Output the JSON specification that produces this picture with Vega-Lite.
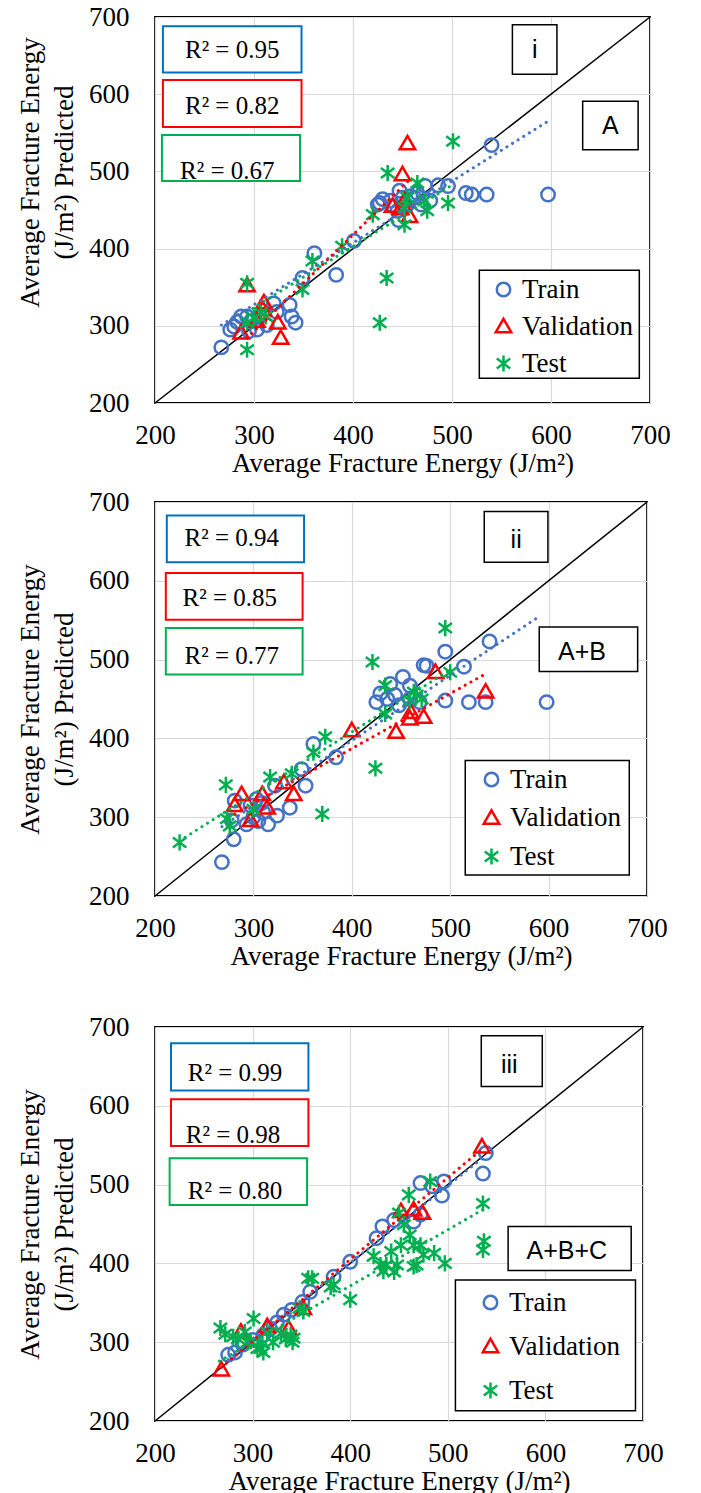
{
  "$schema": "https://vega.github.io/schema/vega-lite/v6.json",
  "padding": {"left": 15, "top": 2, "right": 5, "bottom": 5},
  "config": {
    "font": "Liberation Serif",
    "view": {"stroke": "#000000", "strokeWidth": 1.8},
    "axis": {
      "grid": true, "gridColor": "#d9d9d9", "gridWidth": 1.2,
      "domain": false, "ticks": false,
      "labelFont": "Liberation Serif", "labelFontSize": 27, "labelColor": "#000000",
      "titleFont": "Liberation Serif", "titleFontSize": 27, "titleFontWeight": "normal", "titleColor": "#000000",
      "labelFlush": false, "labelOverlap": false
    },
    "text": {"color": "#000000", "fontSize": 25, "baseline": "middle", "align": "center"}
  },
  "datasets": {
    "a_points": [
      {"set":"Train","actual":267,"predicted":272},{"set":"Train","actual":276,"predicted":295},{"set":"Train","actual":280,"predicted":299},{"set":"Train","actual":283,"predicted":305},{"set":"Train","actual":287,"predicted":312},{"set":"Train","actual":293,"predicted":312},{"set":"Train","actual":297,"predicted":306},{"set":"Train","actual":295,"predicted":293},{"set":"Train","actual":303,"predicted":295},{"set":"Train","actual":306,"predicted":312},{"set":"Train","actual":313,"predicted":301},{"set":"Train","actual":320,"predicted":329},{"set":"Train","actual":323,"predicted":318},{"set":"Train","actual":336,"predicted":327},{"set":"Train","actual":338,"predicted":312},{"set":"Train","actual":342,"predicted":304},{"set":"Train","actual":349,"predicted":362},{"set":"Train","actual":361,"predicted":394},{"set":"Train","actual":383,"predicted":366},{"set":"Train","actual":401,"predicted":410},{"set":"Train","actual":425,"predicted":457},{"set":"Train","actual":427,"predicted":459},{"set":"Train","actual":430,"predicted":464},{"set":"Train","actual":438,"predicted":462},{"set":"Train","actual":441,"predicted":455},{"set":"Train","actual":446,"predicted":437},{"set":"Train","actual":447,"predicted":475},{"set":"Train","actual":445,"predicted":449},{"set":"Train","actual":450,"predicted":466},{"set":"Train","actual":454,"predicted":455},{"set":"Train","actual":458,"predicted":468},{"set":"Train","actual":462,"predicted":466},{"set":"Train","actual":465,"predicted":472},{"set":"Train","actual":469,"predicted":457},{"set":"Train","actual":473,"predicted":481},{"set":"Train","actual":478,"predicted":462},{"set":"Train","actual":486,"predicted":482},{"set":"Train","actual":496,"predicted":481},{"set":"Train","actual":514,"predicted":472},{"set":"Train","actual":520,"predicted":470},{"set":"Train","actual":535,"predicted":470},{"set":"Train","actual":540,"predicted":534},{"set":"Train","actual":597,"predicted":470},
      {"set":"Validation","actual":293,"predicted":352},{"set":"Validation","actual":303,"predicted":306},{"set":"Validation","actual":310,"predicted":330},{"set":"Validation","actual":309,"predicted":321},{"set":"Validation","actual":287,"predicted":291},{"set":"Validation","actual":324,"predicted":304},{"set":"Validation","actual":327,"predicted":284},{"set":"Validation","actual":440,"predicted":455},{"set":"Validation","actual":448,"predicted":452},{"set":"Validation","actual":452,"predicted":462},{"set":"Validation","actual":457,"predicted":442},{"set":"Validation","actual":450,"predicted":496},{"set":"Validation","actual":455,"predicted":536},
      {"set":"Test","actual":293,"predicted":355},{"set":"Test","actual":293,"predicted":269},{"set":"Test","actual":293,"predicted":304},{"set":"Test","actual":300,"predicted":310},{"set":"Test","actual":307,"predicted":317},{"set":"Test","actual":312,"predicted":312},{"set":"Test","actual":349,"predicted":347},{"set":"Test","actual":359,"predicted":384},{"set":"Test","actual":389,"predicted":403},{"set":"Test","actual":420,"predicted":444},{"set":"Test","actual":435,"predicted":498},{"set":"Test","actual":434,"predicted":362},{"set":"Test","actual":427,"predicted":304},{"set":"Test","actual":452,"predicted":453},{"set":"Test","actual":452,"predicted":431},{"set":"Test","actual":455,"predicted":466},{"set":"Test","actual":465,"predicted":485},{"set":"Test","actual":472,"predicted":462},{"set":"Test","actual":475,"predicted":449},{"set":"Test","actual":496,"predicted":459},{"set":"Test","actual":501,"predicted":539}
    ],
    "a_trend": [
      {"set":"Train","actual":267,"predicted":301},{"set":"Train","actual":597,"predicted":565},
      {"set":"Validation","actual":293,"predicted":284},{"set":"Validation","actual":456,"predicted":488},
      {"set":"Test","actual":293,"predicted":318},{"set":"Test","actual":501,"predicted":483}
    ],
    "b_points": [
      {"set":"Train","actual":268,"predicted":243},{"set":"Train","actual":280,"predicted":272},{"set":"Train","actual":281,"predicted":321},{"set":"Train","actual":278,"predicted":296},{"set":"Train","actual":293,"predicted":291},{"set":"Train","actual":297,"predicted":315},{"set":"Train","actual":300,"predicted":300},{"set":"Train","actual":303,"predicted":323},{"set":"Train","actual":305,"predicted":295},{"set":"Train","actual":308,"predicted":318},{"set":"Train","actual":310,"predicted":306},{"set":"Train","actual":315,"predicted":291},{"set":"Train","actual":324,"predicted":302},{"set":"Train","actual":322,"predicted":340},{"set":"Train","actual":337,"predicted":312},{"set":"Train","actual":349,"predicted":361},{"set":"Train","actual":353,"predicted":340},{"set":"Train","actual":361,"predicted":393},{"set":"Train","actual":384,"predicted":376},{"set":"Train","actual":425,"predicted":446},{"set":"Train","actual":429,"predicted":457},{"set":"Train","actual":439,"predicted":469},{"set":"Train","actual":436,"predicted":450},{"set":"Train","actual":444,"predicted":455},{"set":"Train","actual":452,"predicted":478},{"set":"Train","actual":448,"predicted":442},{"set":"Train","actual":459,"predicted":467},{"set":"Train","actual":459,"predicted":450},{"set":"Train","actual":469,"predicted":446},{"set":"Train","actual":473,"predicted":493},{"set":"Train","actual":476,"predicted":492},{"set":"Train","actual":495,"predicted":510},{"set":"Train","actual":495,"predicted":448},{"set":"Train","actual":514,"predicted":491},{"set":"Train","actual":519,"predicted":446},{"set":"Train","actual":536,"predicted":446},{"set":"Train","actual":540,"predicted":523},{"set":"Train","actual":598,"predicted":446},
      {"set":"Validation","actual":288,"predicted":329},{"set":"Validation","actual":281,"predicted":315},{"set":"Validation","actual":297,"predicted":296},{"set":"Validation","actual":309,"predicted":329},{"set":"Validation","actual":314,"predicted":312},{"set":"Validation","actual":331,"predicted":344},{"set":"Validation","actual":341,"predicted":329},{"set":"Validation","actual":400,"predicted":410},{"set":"Validation","actual":445,"predicted":408},{"set":"Validation","actual":459,"predicted":425},{"set":"Validation","actual":460,"predicted":433},{"set":"Validation","actual":473,"predicted":427},{"set":"Validation","actual":485,"predicted":484},{"set":"Validation","actual":536,"predicted":459},
      {"set":"Test","actual":225,"predicted":268},{"set":"Test","actual":272,"predicted":341},{"set":"Test","actual":273,"predicted":298},{"set":"Test","actual":276,"predicted":289},{"set":"Test","actual":300,"predicted":310},{"set":"Test","actual":317,"predicted":351},{"set":"Test","actual":339,"predicted":355},{"set":"Test","actual":361,"predicted":382},{"set":"Test","actual":373,"predicted":402},{"set":"Test","actual":370,"predicted":304},{"set":"Test","actual":421,"predicted":497},{"set":"Test","actual":424,"predicted":362},{"set":"Test","actual":434,"predicted":467},{"set":"Test","actual":434,"predicted":431},{"set":"Test","actual":459,"predicted":448},{"set":"Test","actual":463,"predicted":459},{"set":"Test","actual":466,"predicted":455},{"set":"Test","actual":471,"predicted":450},{"set":"Test","actual":495,"predicted":540},{"set":"Test","actual":500,"predicted":484}
    ],
    "b_trend": [
      {"set":"Train","actual":268,"predicted":288},{"set":"Train","actual":592,"predicted":556},
      {"set":"Validation","actual":281,"predicted":304},{"set":"Validation","actual":536,"predicted":482},
      {"set":"Test","actual":225,"predicted":270},{"set":"Test","actual":500,"predicted":487}
    ],
    "c_points": [
      {"set":"Train","actual":275,"predicted":284},{"set":"Train","actual":282,"predicted":287},{"set":"Train","actual":290,"predicted":297},{"set":"Train","actual":300,"predicted":303},{"set":"Train","actual":311,"predicted":309},{"set":"Train","actual":318,"predicted":317},{"set":"Train","actual":325,"predicted":325},{"set":"Train","actual":332,"predicted":335},{"set":"Train","actual":340,"predicted":341},{"set":"Train","actual":351,"predicted":351},{"set":"Train","actual":359,"predicted":364},{"set":"Train","actual":383,"predicted":383},{"set":"Train","actual":400,"predicted":402},{"set":"Train","actual":427,"predicted":432},{"set":"Train","actual":433,"predicted":447},{"set":"Train","actual":445,"predicted":455},{"set":"Train","actual":465,"predicted":453},{"set":"Train","actual":472,"predicted":462},{"set":"Train","actual":472,"predicted":502},{"set":"Train","actual":484,"predicted":498},{"set":"Train","actual":496,"predicted":504},{"set":"Train","actual":494,"predicted":486},{"set":"Train","actual":539,"predicted":540},{"set":"Train","actual":536,"predicted":514},
      {"set":"Validation","actual":268,"predicted":265},{"set":"Validation","actual":288,"predicted":313},{"set":"Validation","actual":315,"predicted":320},{"set":"Validation","actual":337,"predicted":317},{"set":"Validation","actual":352,"predicted":343},{"set":"Validation","actual":452,"predicted":466},{"set":"Validation","actual":465,"predicted":468},{"set":"Validation","actual":474,"predicted":464},{"set":"Validation","actual":535,"predicted":548},
      {"set":"Test","actual":267,"predicted":318},{"set":"Test","actual":272,"predicted":310},{"set":"Test","actual":280,"predicted":307},{"set":"Test","actual":285,"predicted":304},{"set":"Test","actual":292,"predicted":313},{"set":"Test","actual":295,"predicted":300},{"set":"Test","actual":301,"predicted":330},{"set":"Test","actual":305,"predicted":292},{"set":"Test","actual":298,"predicted":301},{"set":"Test","actual":308,"predicted":292},{"set":"Test","actual":310,"predicted":298},{"set":"Test","actual":311,"predicted":287},{"set":"Test","actual":315,"predicted":313},{"set":"Test","actual":321,"predicted":300},{"set":"Test","actual":329,"predicted":311},{"set":"Test","actual":334,"predicted":304},{"set":"Test","actual":339,"predicted":309},{"set":"Test","actual":341,"predicted":300},{"set":"Test","actual":342,"predicted":305},{"set":"Test","actual":348,"predicted":343},{"set":"Test","actual":352,"predicted":339},{"set":"Test","actual":357,"predicted":381},{"set":"Test","actual":361,"predicted":381},{"set":"Test","actual":380,"predicted":370},{"set":"Test","actual":383,"predicted":373},{"set":"Test","actual":400,"predicted":354},{"set":"Test","actual":424,"predicted":409},{"set":"Test","actual":431,"predicted":398},{"set":"Test","actual":434,"predicted":390},{"set":"Test","actual":437,"predicted":398},{"set":"Test","actual":442,"predicted":415},{"set":"Test","actual":445,"predicted":389},{"set":"Test","actual":448,"predicted":398},{"set":"Test","actual":450,"predicted":464},{"set":"Test","actual":452,"predicted":423},{"set":"Test","actual":455,"predicted":449},{"set":"Test","actual":460,"predicted":487},{"set":"Test","actual":461,"predicted":436},{"set":"Test","actual":465,"predicted":423},{"set":"Test","actual":465,"predicted":396},{"set":"Test","actual":468,"predicted":398},{"set":"Test","actual":472,"predicted":423},{"set":"Test","actual":475,"predicted":411},{"set":"Test","actual":482,"predicted":504},{"set":"Test","actual":486,"predicted":413},{"set":"Test","actual":497,"predicted":400},{"set":"Test","actual":536,"predicted":476},{"set":"Test","actual":537,"predicted":428},{"set":"Test","actual":536,"predicted":417}
    ],
    "c_trend": [
      {"set":"Train","actual":275,"predicted":278},{"set":"Train","actual":539,"predicted":537},
      {"set":"Validation","actual":268,"predicted":268},{"set":"Validation","actual":535,"predicted":545},
      {"set":"Test","actual":266,"predicted":276},{"set":"Test","actual":537,"predicted":469}
    ],
    "diagonal": [{"actual":200,"predicted":200},{"actual":700,"predicted":700}]
  },
  "spacing": 10,
  "resolve": {
    "scale": {"color": "independent", "shape": "independent", "stroke": "independent"},
    "legend": {"color": "independent", "shape": "independent"}
  },
  "vconcat": [
    {
      "width": 495, "height": 386,
      "layer": [
        {"data": {"name": "diagonal"}, "mark": {"type": "line", "color": "#000000", "strokeWidth": 1.5},
         "encoding": {
           "x": {"field": "actual", "type": "quantitative", "scale": {"domain": [200, 700], "nice": false, "zero": false},
                 "axis": {"values": [200, 300, 400, 500, 600, 700], "title": "Average Fracture Energy (J/m²)", "labelPadding": 19, "titlePadding": 2}},
           "y": {"field": "predicted", "type": "quantitative", "scale": {"domain": [200, 700], "nice": false, "zero": false},
                 "axis": {"values": [200, 300, 400, 500, 600, 700], "title": ["Average Fracture Energy", "(J/m²) Predicted"], "labelPadding": 26, "titlePadding": 10, "titleLineHeight": 34, "titleY": 155}}
         }},
        {"data": {"name": "a_points"},
         "mark": {"type": "point", "filled": false, "strokeWidth": 2.5, "size": 180, "opacity": 1},
         "encoding": {
           "x": {"field": "actual", "type": "quantitative"},
           "y": {"field": "predicted", "type": "quantitative"},
           "color": {"field": "set", "type": "nominal", "scale": {"domain": ["Train", "Validation", "Test"], "range": ["#4472C4", "#FF0000", "#00B050"]},
                     "legend": {"title": null, "orient": "none", "legendX": 335, "legendY": 259, "padding": 0, "rowPadding": 9, "labelFont": "Liberation Serif", "labelFontSize": 27, "labelColor": "#000000", "labelOffset": 5, "symbolSize": 180, "symbolStrokeWidth": 2.5}},
           "shape": {"field": "set", "type": "nominal", "scale": {"domain": ["Train", "Validation", "Test"], "range": ["circle", "M0,-1.15L1.15,0.85L-1.15,0.85Z", "M-1,-0.75L1,0.75M-1,0.75L1,-0.75M0,-1.2L0,1.2"]},
                     "legend": {"title": null, "orient": "none", "legendX": 335, "legendY": 259, "padding": 0, "rowPadding": 9, "labelFont": "Liberation Serif", "labelFontSize": 27, "labelColor": "#000000", "labelOffset": 5, "symbolSize": 180, "symbolStrokeWidth": 2.5}}
         }},
        {"data": {"name": "a_trend"},
         "mark": {"type": "line", "strokeWidth": 3, "strokeDash": [0.1, 6.5], "strokeCap": "round"},
         "encoding": {
           "x": {"field": "actual", "type": "quantitative"},
           "y": {"field": "predicted", "type": "quantitative"},
           "stroke": {"field": "set", "type": "nominal", "scale": {"domain": ["Train", "Validation", "Test"], "range": ["#4472C4", "#FF0000", "#00B050"]}, "legend": null}}},
        {"data": {"values": [{"note": "R² = 0.95"}]},
         "layer": [
           {"mark": {"type": "rect", "fill": "#ffffff", "stroke": "#0070C0", "strokeWidth": 2}, "encoding": {"x": {"datum": 208, "type": "quantitative"}, "x2": {"datum": 348}, "y": {"datum": 628, "type": "quantitative"}, "y2": {"datum": 688}}},
           {"mark": {"type": "text", "font": "Liberation Serif"}, "encoding": {"x": {"datum": 278, "type": "quantitative"}, "y": {"datum": 657, "type": "quantitative"}, "text": {"field": "note"}}}
         ]},
        {"data": {"values": [{"note": "R² = 0.82"}]},
         "layer": [
           {"mark": {"type": "rect", "fill": "#ffffff", "stroke": "#FF0000", "strokeWidth": 2}, "encoding": {"x": {"datum": 208, "type": "quantitative"}, "x2": {"datum": 348}, "y": {"datum": 557.5, "type": "quantitative"}, "y2": {"datum": 618.5}}},
           {"mark": {"type": "text", "font": "Liberation Serif"}, "encoding": {"x": {"datum": 278, "type": "quantitative"}, "y": {"datum": 585, "type": "quantitative"}, "text": {"field": "note"}}}
         ]},
        {"data": {"values": [{"note": "R² = 0.67"}]},
         "layer": [
           {"mark": {"type": "rect", "fill": "#ffffff", "stroke": "#00B050", "strokeWidth": 2}, "encoding": {"x": {"datum": 207, "type": "quantitative"}, "x2": {"datum": 346.5}, "y": {"datum": 487.5, "type": "quantitative"}, "y2": {"datum": 547}}},
           {"mark": {"type": "text", "font": "Liberation Serif"}, "encoding": {"x": {"datum": 273, "type": "quantitative"}, "y": {"datum": 500, "type": "quantitative"}, "text": {"field": "note"}}}
         ]},
        {"data": {"values": [{"note": "i"}]},
         "layer": [
           {"mark": {"type": "rect", "fill": "#ffffff", "stroke": "#000000", "strokeWidth": 1.5}, "encoding": {"x": {"datum": 561, "type": "quantitative"}, "x2": {"datum": 606}, "y": {"datum": 626, "type": "quantitative"}, "y2": {"datum": 690}}},
           {"mark": {"type": "text", "font": "Liberation Sans"}, "encoding": {"x": {"datum": 583.5, "type": "quantitative"}, "y": {"datum": 657, "type": "quantitative"}, "text": {"field": "note"}}}
         ]},
        {"data": {"values": [{"note": "A"}]},
         "layer": [
           {"mark": {"type": "rect", "fill": "#ffffff", "stroke": "#000000", "strokeWidth": 1.5}, "encoding": {"x": {"datum": 632, "type": "quantitative"}, "x2": {"datum": 688}, "y": {"datum": 528, "type": "quantitative"}, "y2": {"datum": 591}}},
           {"mark": {"type": "text", "font": "Liberation Sans"}, "encoding": {"x": {"datum": 660, "type": "quantitative"}, "y": {"datum": 559, "type": "quantitative"}, "text": {"field": "note"}}}
         ]},
        {"data": {"values": [{"note": ""}]},
         "mark": {"type": "rect", "fill": "#ffffff", "stroke": "#000000", "strokeWidth": 1.5},
         "encoding": {"x": {"datum": 527.6, "type": "quantitative"}, "x2": {"datum": 689.2}, "y": {"datum": 232, "type": "quantitative"}, "y2": {"datum": 372}}}
      ]
    },
    {
      "width": 492, "height": 394,
      "layer": [
        {"data": {"name": "diagonal"}, "mark": {"type": "line", "color": "#000000", "strokeWidth": 1.5},
         "encoding": {
           "x": {"field": "actual", "type": "quantitative", "scale": {"domain": [200, 700], "nice": false, "zero": false},
                 "axis": {"values": [200, 300, 400, 500, 600, 700], "title": "Average Fracture Energy (J/m²)", "labelPadding": 19, "titlePadding": 2}},
           "y": {"field": "predicted", "type": "quantitative", "scale": {"domain": [200, 700], "nice": false, "zero": false},
                 "axis": {"values": [200, 300, 400, 500, 600, 700], "title": ["Average Fracture Energy", "(J/m²) Predicted"], "labelPadding": 26, "titlePadding": 10, "titleLineHeight": 34}}
         }},
        {"data": {"name": "b_points"},
         "mark": {"type": "point", "filled": false, "strokeWidth": 2.5, "size": 180, "opacity": 1},
         "encoding": {
           "x": {"field": "actual", "type": "quantitative"},
           "y": {"field": "predicted", "type": "quantitative"},
           "color": {"field": "set", "type": "nominal", "scale": {"domain": ["Train", "Validation", "Test"], "range": ["#4472C4", "#FF0000", "#00B050"]},
                     "legend": {"title": null, "orient": "none", "legendX": 323, "legendY": 264, "padding": 0, "rowPadding": 10.5, "labelFont": "Liberation Serif", "labelFontSize": 27, "labelColor": "#000000", "labelOffset": 5, "symbolSize": 180, "symbolStrokeWidth": 2.5}},
           "shape": {"field": "set", "type": "nominal", "scale": {"domain": ["Train", "Validation", "Test"], "range": ["circle", "M0,-1.15L1.15,0.85L-1.15,0.85Z", "M-1,-0.75L1,0.75M-1,0.75L1,-0.75M0,-1.2L0,1.2"]},
                     "legend": {"title": null, "orient": "none", "legendX": 323, "legendY": 264, "padding": 0, "rowPadding": 10.5, "labelFont": "Liberation Serif", "labelFontSize": 27, "labelColor": "#000000", "labelOffset": 5, "symbolSize": 180, "symbolStrokeWidth": 2.5}}
         }},
        {"data": {"name": "b_trend"},
         "mark": {"type": "line", "strokeWidth": 3, "strokeDash": [0.1, 6.5], "strokeCap": "round"},
         "encoding": {
           "x": {"field": "actual", "type": "quantitative"},
           "y": {"field": "predicted", "type": "quantitative"},
           "stroke": {"field": "set", "type": "nominal", "scale": {"domain": ["Train", "Validation", "Test"], "range": ["#4472C4", "#FF0000", "#00B050"]}, "legend": null}}},
        {"data": {"values": [{"note": "R² = 0.94"}]},
         "layer": [
           {"mark": {"type": "rect", "fill": "#ffffff", "stroke": "#0070C0", "strokeWidth": 2}, "encoding": {"x": {"datum": 212, "type": "quantitative"}, "x2": {"datum": 351.5}, "y": {"datum": 623.5, "type": "quantitative"}, "y2": {"datum": 683}}},
           {"mark": {"type": "text", "font": "Liberation Serif"}, "encoding": {"x": {"datum": 278, "type": "quantitative"}, "y": {"datum": 654, "type": "quantitative"}, "text": {"field": "note"}}}
         ]},
        {"data": {"values": [{"note": "R² = 0.85"}]},
         "layer": [
           {"mark": {"type": "rect", "fill": "#ffffff", "stroke": "#FF0000", "strokeWidth": 2}, "encoding": {"x": {"datum": 211, "type": "quantitative"}, "x2": {"datum": 350}, "y": {"datum": 550.5, "type": "quantitative"}, "y2": {"datum": 610}}},
           {"mark": {"type": "text", "font": "Liberation Serif"}, "encoding": {"x": {"datum": 276, "type": "quantitative"}, "y": {"datum": 578, "type": "quantitative"}, "text": {"field": "note"}}}
         ]},
        {"data": {"values": [{"note": "R² = 0.77"}]},
         "layer": [
           {"mark": {"type": "rect", "fill": "#ffffff", "stroke": "#00B050", "strokeWidth": 2}, "encoding": {"x": {"datum": 211, "type": "quantitative"}, "x2": {"datum": 350}, "y": {"datum": 481, "type": "quantitative"}, "y2": {"datum": 540}}},
           {"mark": {"type": "text", "font": "Liberation Serif"}, "encoding": {"x": {"datum": 278, "type": "quantitative"}, "y": {"datum": 505, "type": "quantitative"}, "text": {"field": "note"}}}
         ]},
        {"data": {"values": [{"note": "ii"}]},
         "layer": [
           {"mark": {"type": "rect", "fill": "#ffffff", "stroke": "#000000", "strokeWidth": 1.5}, "encoding": {"x": {"datum": 534.6, "type": "quantitative"}, "x2": {"datum": 599.3}, "y": {"datum": 623.4, "type": "quantitative"}, "y2": {"datum": 688}}},
           {"mark": {"type": "text", "font": "Liberation Sans"}, "encoding": {"x": {"datum": 567, "type": "quantitative"}, "y": {"datum": 652, "type": "quantitative"}, "text": {"field": "note"}}}
         ]},
        {"data": {"values": [{"note": "A+B"}]},
         "layer": [
           {"mark": {"type": "rect", "fill": "#ffffff", "stroke": "#000000", "strokeWidth": 1.5}, "encoding": {"x": {"datum": 590.5, "type": "quantitative"}, "x2": {"datum": 690.5}, "y": {"datum": 485, "type": "quantitative"}, "y2": {"datum": 541.5}}},
           {"mark": {"type": "text", "font": "Liberation Sans"}, "encoding": {"x": {"datum": 634, "type": "quantitative"}, "y": {"datum": 510, "type": "quantitative"}, "text": {"field": "note"}}}
         ]},
        {"data": {"values": [{"note": ""}]},
         "mark": {"type": "rect", "fill": "#ffffff", "stroke": "#000000", "strokeWidth": 1.5},
         "encoding": {"x": {"datum": 515.3, "type": "quantitative"}, "x2": {"datum": 682}, "y": {"datum": 226.7, "type": "quantitative"}, "y2": {"datum": 371.8}}}
      ]
    },
    {
      "width": 488, "height": 394,
      "title": {"text": " ", "fontSize": 10, "offset": 22},
      "layer": [
        {"data": {"name": "diagonal"}, "mark": {"type": "line", "color": "#000000", "strokeWidth": 1.5},
         "encoding": {
           "x": {"field": "actual", "type": "quantitative", "scale": {"domain": [200, 700], "nice": false, "zero": false},
                 "axis": {"values": [200, 300, 400, 500, 600, 700], "title": "Average Fracture Energy (J/m²)", "labelPadding": 19, "titlePadding": 2}},
           "y": {"field": "predicted", "type": "quantitative", "scale": {"domain": [200, 700], "nice": false, "zero": false},
                 "axis": {"values": [200, 300, 400, 500, 600, 700], "title": ["Average Fracture Energy", "(J/m²) Predicted"], "labelPadding": 26, "titlePadding": 10, "titleLineHeight": 34}}
         }},
        {"data": {"name": "c_points"},
         "mark": {"type": "point", "filled": false, "strokeWidth": 2.5, "size": 180, "opacity": 1},
         "encoding": {
           "x": {"field": "actual", "type": "quantitative"},
           "y": {"field": "predicted", "type": "quantitative"},
           "color": {"field": "set", "type": "nominal", "scale": {"domain": ["Train", "Validation", "Test"], "range": ["#4472C4", "#FF0000", "#00B050"]},
                     "legend": {"title": null, "orient": "none", "legendX": 322, "legendY": 262, "padding": 0, "rowPadding": 16, "labelFont": "Liberation Serif", "labelFontSize": 27, "labelColor": "#000000", "labelOffset": 5, "symbolSize": 180, "symbolStrokeWidth": 2.5}},
           "shape": {"field": "set", "type": "nominal", "scale": {"domain": ["Train", "Validation", "Test"], "range": ["circle", "M0,-1.15L1.15,0.85L-1.15,0.85Z", "M-1,-0.75L1,0.75M-1,0.75L1,-0.75M0,-1.2L0,1.2"]},
                     "legend": {"title": null, "orient": "none", "legendX": 322, "legendY": 262, "padding": 0, "rowPadding": 16, "labelFont": "Liberation Serif", "labelFontSize": 27, "labelColor": "#000000", "labelOffset": 5, "symbolSize": 180, "symbolStrokeWidth": 2.5}}
         }},
        {"data": {"name": "c_trend"},
         "mark": {"type": "line", "strokeWidth": 3, "strokeDash": [0.1, 6.5], "strokeCap": "round"},
         "encoding": {
           "x": {"field": "actual", "type": "quantitative"},
           "y": {"field": "predicted", "type": "quantitative"},
           "stroke": {"field": "set", "type": "nominal", "scale": {"domain": ["Train", "Validation", "Test"], "range": ["#4472C4", "#FF0000", "#00B050"]}, "legend": null}}},
        {"data": {"values": [{"note": "R² = 0.99"}]},
         "layer": [
           {"mark": {"type": "rect", "fill": "#ffffff", "stroke": "#0070C0", "strokeWidth": 2}, "encoding": {"x": {"datum": 216.4, "type": "quantitative"}, "x2": {"datum": 357.2}, "y": {"datum": 619.4, "type": "quantitative"}, "y2": {"datum": 679.4}}},
           {"mark": {"type": "text", "font": "Liberation Serif"}, "encoding": {"x": {"datum": 282, "type": "quantitative"}, "y": {"datum": 641, "type": "quantitative"}, "text": {"field": "note"}}}
         ]},
        {"data": {"values": [{"note": "R² = 0.98"}]},
         "layer": [
           {"mark": {"type": "rect", "fill": "#ffffff", "stroke": "#FF0000", "strokeWidth": 2}, "encoding": {"x": {"datum": 216.4, "type": "quantitative"}, "x2": {"datum": 357.2}, "y": {"datum": 549, "type": "quantitative"}, "y2": {"datum": 608.4}}},
           {"mark": {"type": "text", "font": "Liberation Serif"}, "encoding": {"x": {"datum": 280, "type": "quantitative"}, "y": {"datum": 563, "type": "quantitative"}, "text": {"field": "note"}}}
         ]},
        {"data": {"values": [{"note": "R² = 0.80"}]},
         "layer": [
           {"mark": {"type": "rect", "fill": "#ffffff", "stroke": "#00B050", "strokeWidth": 2}, "encoding": {"x": {"datum": 215, "type": "quantitative"}, "x2": {"datum": 355.8}, "y": {"datum": 474.2, "type": "quantitative"}, "y2": {"datum": 533.5}}},
           {"mark": {"type": "text", "font": "Liberation Serif"}, "encoding": {"x": {"datum": 282, "type": "quantitative"}, "y": {"datum": 492, "type": "quantitative"}, "text": {"field": "note"}}}
         ]},
        {"data": {"values": [{"note": "iii"}]},
         "layer": [
           {"mark": {"type": "rect", "fill": "#ffffff", "stroke": "#000000", "strokeWidth": 1.5}, "encoding": {"x": {"datum": 534.3, "type": "quantitative"}, "x2": {"datum": 596.8}, "y": {"datum": 624.5, "type": "quantitative"}, "y2": {"datum": 688.8}}},
           {"mark": {"type": "text", "font": "Liberation Sans"}, "encoding": {"x": {"datum": 563, "type": "quantitative"}, "y": {"datum": 652, "type": "quantitative"}, "text": {"field": "note"}}}
         ]},
        {"data": {"values": [{"note": "A+B+C"}]},
         "layer": [
           {"mark": {"type": "rect", "fill": "#ffffff", "stroke": "#000000", "strokeWidth": 1.5}, "encoding": {"x": {"datum": 561.8, "type": "quantitative"}, "x2": {"datum": 687.9}, "y": {"datum": 391, "type": "quantitative"}, "y2": {"datum": 446.7}}},
           {"mark": {"type": "text", "font": "Liberation Sans"}, "encoding": {"x": {"datum": 622, "type": "quantitative"}, "y": {"datum": 416, "type": "quantitative"}, "text": {"field": "note"}}}
         ]},
        {"data": {"values": [{"note": ""}]},
         "mark": {"type": "rect", "fill": "#ffffff", "stroke": "#000000", "strokeWidth": 1.5},
         "encoding": {"x": {"datum": 507.8, "type": "quantitative"}, "x2": {"datum": 692.3}, "y": {"datum": 213.1, "type": "quantitative"}, "y2": {"datum": 379}}}
      ]
    }
  ]
}
